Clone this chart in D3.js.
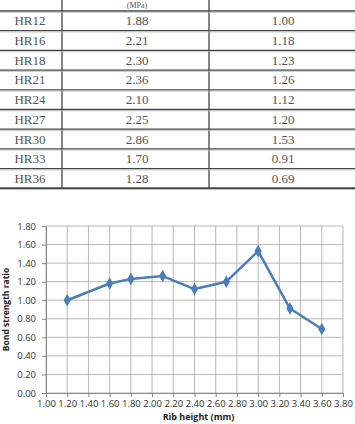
<!DOCTYPE html>
<html>
<head>
<meta charset="utf-8">
<script src="https://cdn.jsdelivr.net/npm/d3@7"></script>
<style>
body { margin: 0; background: #fff; }
svg { display: block; }
</style>
</head>
<body>
<div id="chart"></div>
<script>
// table data
var specimens = ["HR12", "HR16", "HR18", "HR21", "HR24", "HR27", "HR30", "HR33", "HR36"];
var strengths = ["1.88", "2.21", "2.30", "2.36", "2.10", "2.25", "2.86", "1.70", "1.28"];
var ratioLabels = ["1.00", "1.18", "1.23", "1.26", "1.12", "1.20", "1.53", "0.91", "0.69"];

// chart data
var ribHeights = [1.2, 1.6, 1.8, 2.1, 2.4, 2.7, 3.0, 3.3, 3.6];
var ratios = [1.00, 1.18, 1.23, 1.26, 1.12, 1.20, 1.53, 0.91, 0.69];
var xTicks = [1.0, 1.2, 1.4, 1.6, 1.8, 2.0, 2.2, 2.4, 2.6, 2.8, 3.0, 3.2, 3.4, 3.6, 3.8];
var yTicks = [0, 0.2, 0.4, 0.6, 0.8, 1.0, 1.2, 1.4, 1.6, 1.8];

var svgWidth = 355;
var svgHeight = 424;

var svg = d3.select("#chart")
    .append("svg")
    .attr("width", svgWidth)
    .attr("height", svgHeight);

// ---- table ----
var tableTop = 11;
var rowH = 19.7;
var serif = "'Liberation Serif', 'DejaVu Serif', serif";

var table = svg.append("g");

// vertical column lines
[62, 209].forEach(function (x) {
    table.append("line")
        .attr("x1", x).attr("x2", x)
        .attr("y1", 0).attr("y2", tableTop + rowH * specimens.length)
        .attr("stroke", "#333").attr("stroke-width", 1.2);
});

// header unit (top of the header row is outside the picture)
table.append("text")
    .attr("x", 137).attr("y", 8)
    .attr("text-anchor", "middle")
    .attr("font-family", serif).attr("font-size", "8px")
    .attr("fill", "#555")
    .text("(MPa)");

// horizontal lines
d3.range(specimens.length + 1).forEach(function (i) {
    var y = tableTop + rowH * i;
    table.append("line")
        .attr("x1", 0).attr("x2", svgWidth)
        .attr("y1", y).attr("y2", y)
        .attr("stroke", "#444")
        .attr("stroke-width", i === specimens.length ? 2 : 1.3);
    table.append("line")
        .attr("x1", 0).attr("x2", svgWidth)
        .attr("y1", y + 1.3).attr("y2", y + 1.3)
        .attr("stroke", "#bbb")
        .attr("stroke-width", 0.8);
});

var rows = table.selectAll("g.row")
    .data(specimens)
    .enter()
    .append("g")
    .attr("class", "row")
    .attr("transform", (d, i) => `translate(0, ${tableTop + rowH * i + rowH / 2 + 4.5})`);

rows.append("text")
    .attr("x", 30)
    .text(d => d);
rows.append("text")
    .attr("x", 137)
    .text((d, i) => strengths[i]);
rows.append("text")
    .attr("x", 283)
    .text((d, i) => ratioLabels[i]);

rows.selectAll("text")
    .attr("text-anchor", "middle")
    .attr("font-family", serif)
    .attr("font-size", "13px")
    .attr("fill", "#555");

// ---- chart ----
var plot = { left: 46, right: 343, top: 226, bottom: 393 };
var sans = "'Open Sans', 'Liberation Sans', sans-serif";

var xScale = d3.scaleLinear()
    .domain([1.0, 3.8])
    .range([plot.left, plot.right]);

var yScale = d3.scaleLinear()
    .domain([0, 1.8])
    .range([plot.bottom, plot.top]);

var chartGroup = svg.append("g");

// gridlines
chartGroup.append("g").selectAll("line")
    .data(xTicks)
    .enter()
    .append("line")
    .attr("x1", d => xScale(d)).attr("x2", d => xScale(d))
    .attr("y1", plot.top).attr("y2", plot.bottom)
    .attr("stroke", "#a6a6a6").attr("stroke-width", 0.8);

chartGroup.append("g").selectAll("line")
    .data(yTicks)
    .enter()
    .append("line")
    .attr("x1", plot.left).attr("x2", plot.right)
    .attr("y1", d => yScale(d)).attr("y2", d => yScale(d))
    .attr("stroke", "#a6a6a6").attr("stroke-width", 0.8);

// axes
var bottomAxis = d3.axisBottom(xScale)
    .tickValues(xTicks)
    .tickFormat(d3.format(".2f"))
    .tickSize(4)
    .tickPadding(3);

var leftAxis = d3.axisLeft(yScale)
    .tickValues(yTicks)
    .tickFormat(d3.format(".2f"))
    .tickSize(4)
    .tickPadding(6);

var xAxisG = chartGroup.append("g")
    .attr("transform", `translate(0, ${plot.bottom})`)
    .call(bottomAxis);

var yAxisG = chartGroup.append("g")
    .attr("transform", `translate(${plot.left}, 0)`)
    .call(leftAxis);

[xAxisG, yAxisG].forEach(function (g) {
    g.select(".domain").attr("stroke", "#888");
    g.selectAll(".tick line").attr("stroke", "#888");
    g.selectAll(".tick text")
        .attr("font-family", sans)
        .attr("font-size", "9.5px")
        .attr("fill", "#333");
});

// line
var line = d3.line()
    .x(function (d, i) { return xScale(ribHeights[i]); })
    .y(function (d) { return yScale(d); });

chartGroup.append("path")
    .datum(ratios)
    .attr("d", line)
    .attr("fill", "none")
    .attr("stroke", "#4a7ebb")
    .attr("stroke-width", 2.5)
    .attr("stroke-linejoin", "round");

chartGroup.append("g").selectAll("path")
    .data(ratios)
    .enter()
    .append("path")
    .attr("transform", (d, i) => `translate(${xScale(ribHeights[i])}, ${yScale(d)})`)
    .attr("d", d3.symbol().type(d3.symbolDiamond).size(45))
    .attr("fill", "#4a7ebb");

// labels
chartGroup.append("text")
    .attr("transform", `translate(9, ${(plot.top + plot.bottom) / 2}) rotate(-90)`)
    .attr("text-anchor", "middle")
    .attr("font-family", sans)
    .attr("font-size", "8.5px")
    .attr("font-weight", "700")
    .attr("fill", "#222")
    .text("Bond strength ratio");

chartGroup.append("text")
    .attr("x", (plot.left + plot.right) / 2 + 4)
    .attr("y", 420)
    .attr("text-anchor", "middle")
    .attr("font-family", sans)
    .attr("font-size", "9px")
    .attr("font-weight", "700")
    .attr("fill", "#222")
    .text("Rib height (mm)");
</script>
</body>
</html>
